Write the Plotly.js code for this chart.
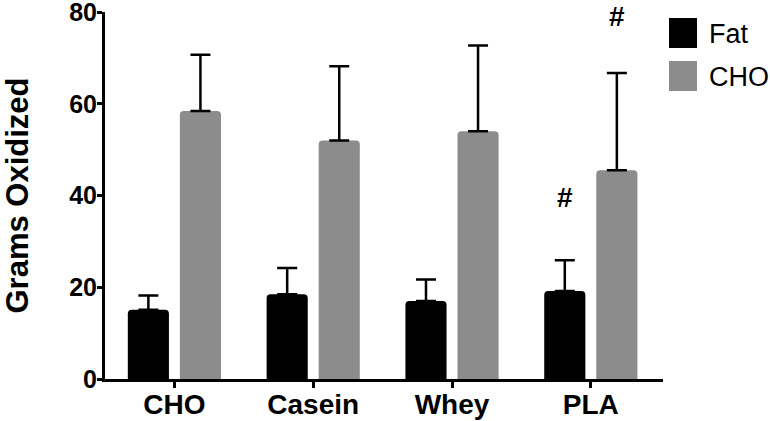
<!DOCTYPE html>
<html>
<head>
<meta charset="utf-8">
<script src="https://cdn.plot.ly/plotly-3.0.1.min.js"></script>
<style>
  html, body { margin: 0; padding: 0; background: #fff; }
  #plot { width: 770px; height: 421px; }
</style>
</head>
<body>
<div id="plot"></div>
<script>
// groups on the x axis
var groups = ['CHO', 'Casein', 'Whey', 'PLA'];

// grams oxidized, mean and upper error (SD)
var fatMean = [15.1, 18.5, 17.0, 19.2];
var fatErr  = [3.1, 5.7, 4.7, 6.7];
var choMean = [58.4, 52.0, 54.0, 45.5];
var choErr  = [12.3, 16.2, 18.7, 21.2];

// significance marks (#): group, which bar, height
var markGroup = ['PLA', 'PLA'];
var markBar   = ['Fat', 'CHO'];
var markY     = [39.6, 79.0];

var seriesNames  = ['Fat', 'CHO'];
var seriesColors = ['#000000', '#8c8c8c'];

var fontFam = 'Liberation Sans, Arial, Helvetica, sans-serif';

function zeros(n) {
  var z = [];
  for (var i = 0; i < n; i++) z.push(0);
  return z;
}

var traces = [
  {
    type: 'bar', name: 'Fat', x: groups, y: fatMean,
    marker: { color: seriesColors[0], cornerradius: 4 },
    error_y: { type: 'data', symmetric: false, array: fatErr, arrayminus: zeros(fatErr.length),
               color: '#000', thickness: 2.5, width: 10 },
    showlegend: false
  },
  {
    type: 'bar', name: 'CHO', x: groups, y: choMean,
    marker: { color: seriesColors[1], cornerradius: 4 },
    error_y: { type: 'data', symmetric: false, array: choErr, arrayminus: zeros(choErr.length),
               color: '#000', thickness: 2.5, width: 10 },
    showlegend: false
  }
];

// # annotations
var annotations = [];
for (var i = 0; i < markY.length; i++) {
  annotations.push({
    x: markGroup[i], y: markY[i], xref: 'x', yref: 'y',
    text: '#', showarrow: false,
    xshift: markBar[i] === 'Fat' ? -26 : 26,
    yanchor: 'middle',
    font: { family: fontFam, size: 28, color: '#000', weight: 'bold' }
  });
}

// hand made legend: big filled boxes right of the plot
for (var k = 0; k < seriesNames.length; k++) {
  annotations.push({
    x: 1, y: 1, xref: 'paper', yref: 'paper',
    xanchor: 'left', yanchor: 'top',
    xshift: 6, yshift: -6 - k * 43,
    text: ' ', showarrow: false,
    width: 28, height: 30, borderpad: 0, borderwidth: 0,
    bgcolor: seriesColors[k],
    font: { family: fontFam, size: 10, color: seriesColors[k] }
  });
  annotations.push({
    x: 1, y: 1, xref: 'paper', yref: 'paper',
    xanchor: 'left', yanchor: 'middle',
    xshift: 44, yshift: -22 - k * 43,
    text: seriesNames[k], showarrow: false,
    font: { family: fontFam, size: 27, color: '#000' }
  });
}

var layout = {
  width: 770, height: 421,
  margin: { l: 105, r: 107, t: 12, b: 42 },
  paper_bgcolor: '#fff', plot_bgcolor: '#fff',
  barmode: 'group', bargap: 0.25, bargroupgap: 0.21,
  showlegend: false,
  xaxis: {
    range: [-0.5, 3.52],
    showline: true, linecolor: '#000', linewidth: 3,
    ticks: 'outside', ticklen: 6, tickwidth: 3, tickcolor: '#000',
    ticklabelstandoff: -8, ticklabeloverflow: 'allow',
    tickfont: { family: fontFam, size: 28, color: '#000', weight: 'bold' },
    showgrid: false, zeroline: false, fixedrange: true
  },
  yaxis: {
    range: [0, 80], dtick: 20,
    showline: true, linecolor: '#000', linewidth: 3,
    ticks: 'outside', ticklen: 5, tickwidth: 3, tickcolor: '#000',
    ticklabelstandoff: -5, ticklabeloverflow: 'allow',
    tickfont: { family: fontFam, size: 25, color: '#000', weight: 'bold' },
    title: { text: 'Grams Oxidized', standoff: 36,
             font: { family: fontFam, size: 31, color: '#000', weight: 'bold' } },
    showgrid: false, zeroline: false, fixedrange: true
  },
  annotations: annotations
};

Plotly.newPlot('plot', traces, layout, { displayModeBar: false, staticPlot: true });
</script>
</body>
</html>
